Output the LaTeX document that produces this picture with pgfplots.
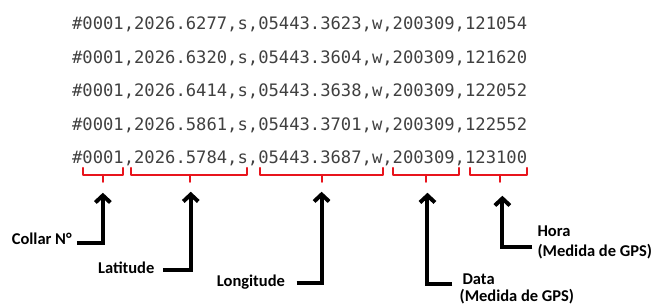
\documentclass[border=0pt]{standalone}
\usepackage{fontspec}
\usepackage{pgfplots}
\pgfplotsset{compat=1.18}
\usetikzlibrary{arrows.meta}
\newfontfamily\monof{DejaVu Sans Mono}
\newfontfamily\labf{Carlito}
\definecolor{txtgray}{HTML}{404040}
\definecolor{brred}{HTML}{E8141C}
\begin{document}
\begin{tikzpicture}[
  brace/.style={brred, line width=2pt, line join=round, line cap=round},
  arr/.style={black, line width=4pt, line join=miter, -{Straight Barb[length=7pt,width=15pt]}},
  mono/.style={anchor=base west, inner sep=0pt, text=txtgray, font=\monof\fontsize{17.2}{20}\selectfont},
  lab/.style={inner sep=0pt, font=\labf\bfseries\fontsize{16.5}{18}\selectfont},
]
\begin{axis}[
  scale only axis, width=652pt, height=307pt,
  xmin=0, xmax=652, ymin=0, ymax=307, y dir=reverse,
  hide axis, clip=false,
]
\path[draw=none] (axis cs:0,0) rectangle (axis cs:652,307);
% data lines
\node[mono] at (axis cs:72,30) {\#0001,2026.6277,s,05443.3623,w,200309,121054};
\node[mono] at (axis cs:72,63.5) {\#0001,2026.6320,s,05443.3604,w,200309,121620};
\node[mono] at (axis cs:72,97) {\#0001,2026.6414,s,05443.3638,w,200309,122052};
\node[mono] at (axis cs:72,130.5) {\#0001,2026.5861,s,05443.3701,w,200309,122552};
\node[mono] at (axis cs:72,164) {\#0001,2026.5784,s,05443.3687,w,200309,123100};
% braces
\addplot[brace, no markers] coordinates {(83,168) (83,175) (123,175) (123,168)};
\addplot[brace, no markers] coordinates {(103,175) (103,182)};
\addplot[brace, no markers] coordinates {(131,168) (131,175) (247,175) (247,168)};
\addplot[brace, no markers] coordinates {(190,175) (190,182)};
\addplot[brace, no markers] coordinates {(260,168) (260,175) (383,175) (383,168)};
\addplot[brace, no markers] coordinates {(322,175) (322,182)};
\addplot[brace, no markers] coordinates {(393,168) (393,175) (460,175) (460,168)};
\addplot[brace, no markers] coordinates {(427,175) (427,182)};
\addplot[brace, no markers] coordinates {(471,168) (471,175) (528,175) (528,168)};
\addplot[brace, no markers] coordinates {(501,175) (501,182)};
% arrows
\addplot[arr, no markers] coordinates {(77,243) (103,243) (103,193)};
\addplot[arr, no markers] coordinates {(163,270) (191,270) (191,192)};
\addplot[arr, no markers] coordinates {(297,283) (322,283) (322,192)};
\addplot[arr, no markers] coordinates {(453,284) (428,284) (428,193)};
\addplot[arr, no markers] coordinates {(533,247) (503,247) (503,196)};
% labels
\node[lab, anchor=base east] at (axis cs:72,245) {Collar N°};
\node[lab, anchor=base west] at (axis cs:98,274) {Latitude};
\node[lab, anchor=base west] at (axis cs:217,287) {Longitude};
\node[lab, anchor=base west] at (axis cs:463,285) {Data};
\node[lab, anchor=base west] at (axis cs:460,302) {(Medida de GPS)};
\node[lab, anchor=base west] at (axis cs:538,237) {Hora};
\node[lab, anchor=base west] at (axis cs:538,257) {(Medida de GPS)};
\end{axis}
\end{tikzpicture}
\end{document}
